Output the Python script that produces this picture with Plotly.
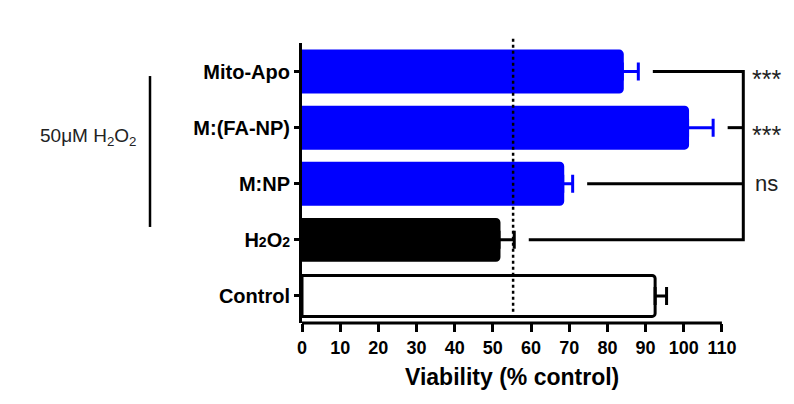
import plotly.graph_objects as go

# ---- data (bottom to top) ----
categories = ["Control", "H<span style=\"font-size:14px\">2</span>O<span style=\"font-size:14px\">2</span>",
              "M:NP", "M:(FA-NP)", "Mito-Apo"]
viability = [92.5, 51.6, 68.3, 101.0, 83.9]
sem = [3.0, 4.0, 2.6, 6.7, 4.2]
significance = ["", "", "ns", "***", "***"]   # vs H2O2
x_ticks = [0, 10, 20, 30, 40, 50, 60, 70, 80, 90, 100, 110]
threshold = 55.3

# ---- styles ----
BLUE = "#0000FF"
fill_colors = ["white", "black", BLUE, BLUE, BLUE]
edge_colors = ["black", "black", BLUE, BLUE, BLUE]
FONT = "Arial, Liberation Sans, sans-serif"

fig = go.Figure()
for i, (cat, v, s) in enumerate(zip(categories, viability, sem)):
    fig.add_trace(go.Bar(
        y=[i], x=[v], orientation="h", width=0.73,
        marker=dict(color=fill_colors[i], line=dict(color=edge_colors[i], width=3),
                    cornerradius=3),
        error_x=dict(type="data", array=[s], arrayminus=[0], symmetric=False,
                     color=edge_colors[i], thickness=3, width=9),
        showlegend=False, hoverinfo="skip",
    ))

ref_idx = 1  # H2O2 group is the comparison reference
bracket_x = 115.6
gap = 3.8
shapes = []
# dotted reference line
shapes.append(dict(type="line", xref="x", yref="paper", x0=threshold, x1=threshold,
                   y0=0.04, y1=1.02, line=dict(color="black", width=2.5, dash="dot")))
# x axis line (0..110 only)
shapes.append(dict(type="line", xref="x", yref="paper", x0=x_ticks[0], x1=x_ticks[-1],
                   y0=0, y1=0, line=dict(color="black", width=3)))
# significance bracket
top = len(categories) - 1
path = (f"M {viability[top] + sem[top] + gap},{top} L {bracket_x},{top} "
        f"L {bracket_x},{ref_idx} L {viability[ref_idx] + sem[ref_idx] + gap},{ref_idx}")
shapes.append(dict(type="path", xref="x", yref="y", path=path,
                   line=dict(color="black", width=3)))
for i in range(ref_idx + 1, top):
    shapes.append(dict(type="line", xref="x", yref="y", x0=viability[i] + sem[i] + gap,
                       x1=bracket_x, y0=i, y1=i, line=dict(color="black", width=3)))
# group line on the left
shapes.append(dict(type="line", xref="paper", yref="paper", x0=-0.316, x1=-0.316,
                   y0=0.343, y1=0.882, line=dict(color="black", width=2.5)))

annotations = []
for i, sig in enumerate(significance):
    if sig:
        annotations.append(dict(
            x=121.8, y=i, xref="x", yref="y", text=sig, showarrow=False,
            xanchor="center", yanchor="middle",
            yshift=-7 if sig.startswith("*") else 0,
            font=dict(family=FONT, size=25 if sig.startswith("*") else 22, color="#222")))
annotations.append(dict(x=-0.443, y=0.664, xref="paper", yref="paper",
                        text="50μM H<sub>2</sub>O<sub>2</sub>", showarrow=False,
                        xanchor="center", yanchor="middle",
                        font=dict(family=FONT, size=19, color="#222")))
annotations.append(dict(x=55, y=-0.193, xref="x", yref="paper",
                        text="Viability (% control)", showarrow=False,
                        xanchor="center", yanchor="middle",
                        font=dict(family=FONT, size=23, color="black", weight="bold")))

# the page body has an 8px default margin; size the figure to fit the window
fig.update_layout(
    width=786, height=396,
    margin=dict(l=294, r=11, t=35, b=81),
    plot_bgcolor="white", paper_bgcolor="white",
    barmode="overlay",
    shapes=shapes, annotations=annotations,
    xaxis=dict(range=[0, 126], tickvals=x_ticks, showline=False, showgrid=False,
               zeroline=False, ticks="outside", ticklen=8, tickwidth=3, tickcolor="black",
               tickfont=dict(family=FONT, size=18, color="black", weight="bold")),
    yaxis=dict(range=[-0.482, 4.509], tickvals=list(range(len(categories))),
               ticktext=categories, showline=True, linewidth=3, linecolor="black",
               showgrid=False, zeroline=False, ticks="outside", ticklen=5, tickwidth=3,
               tickcolor="black",
               tickfont=dict(family=FONT, size=20, color="black", weight="bold")),
)

fig.write_html("out.html")
